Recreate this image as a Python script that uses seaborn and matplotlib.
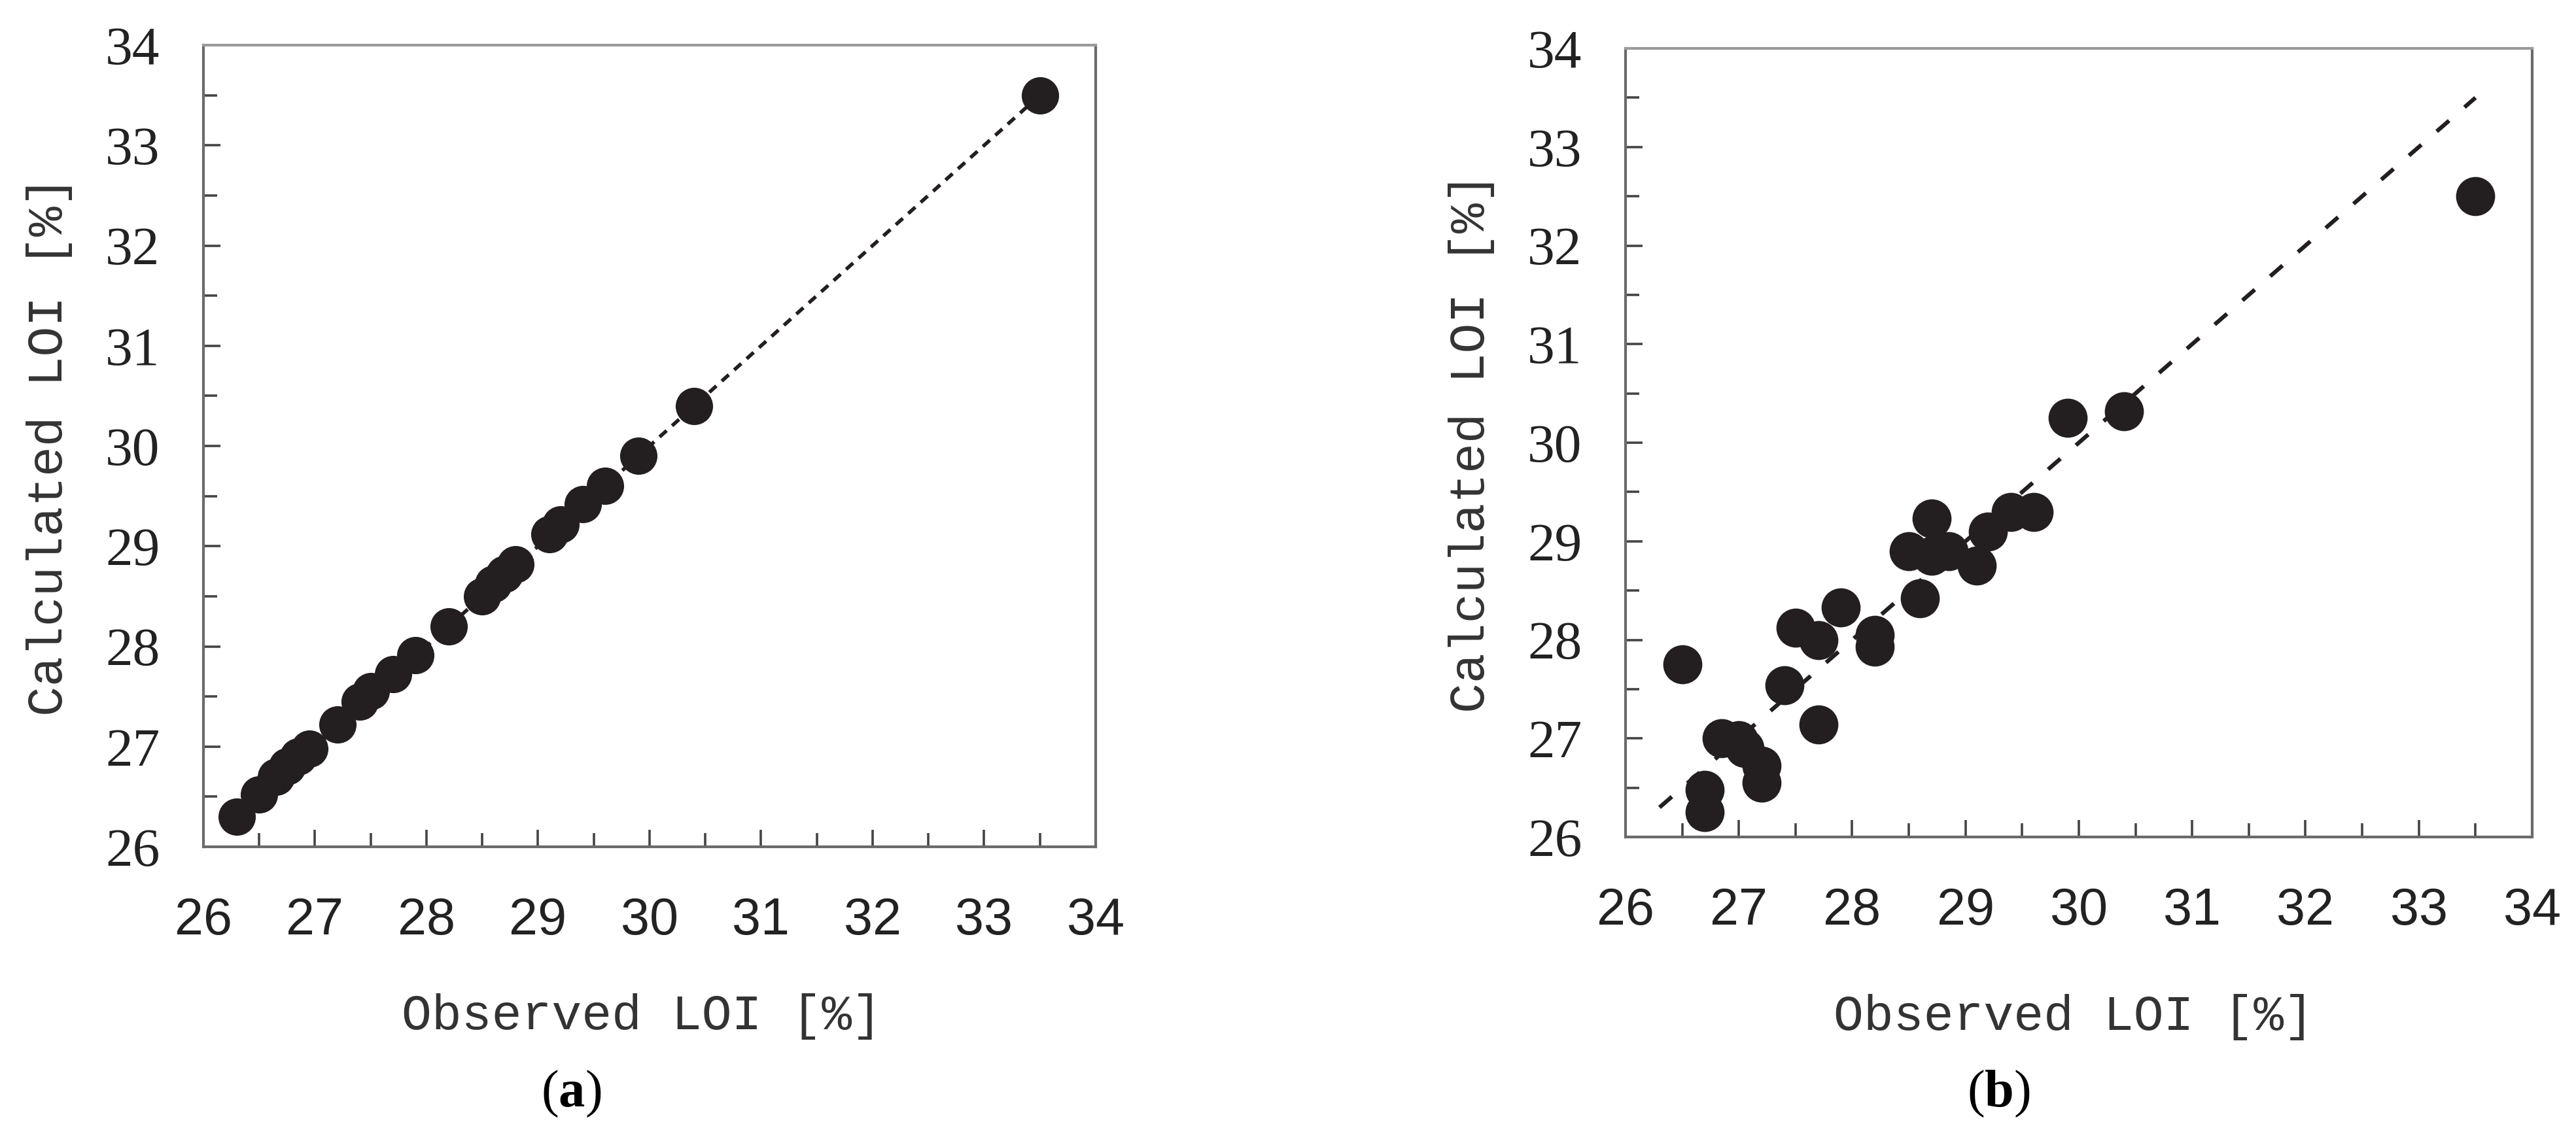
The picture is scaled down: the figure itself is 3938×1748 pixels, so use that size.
import numpy as np
import pandas as pd
import matplotlib
matplotlib.use("Agg")
import matplotlib.pyplot as plt
from matplotlib.ticker import MultipleLocator
import seaborn as sns

sns.set_theme(style="white")
plt.rcParams['mathtext.fontset'] = 'custom'
plt.rcParams['mathtext.rm'] = 'Liberation Serif'
plt.rcParams['mathtext.bf'] = 'Liberation Serif:bold'

# panel (a): observed vs calculated LOI, near-perfect fit
obs_a = [26.30, 26.50, 26.65, 26.75, 26.85, 26.95, 27.20, 27.40, 27.50, 27.70, 27.90,
         28.20, 28.50, 28.60, 28.70, 28.80, 29.10, 29.20, 29.40, 29.60, 29.90, 30.40, 33.50]
calc_a = [26.30, 26.52, 26.70, 26.80, 26.90, 26.98, 27.22, 27.45, 27.55, 27.72, 27.91,
          28.20, 28.50, 28.62, 28.72, 28.82, 29.12, 29.22, 29.42, 29.60, 29.90, 30.40, 33.50]

# panel (b): observed vs calculated LOI, scattered fit
obs_b = [26.50, 26.70, 26.70, 26.85, 27.00, 27.05, 27.20, 27.20, 27.40, 27.50, 27.70,
         27.70, 27.90, 28.20, 28.20, 28.50, 28.60, 28.70, 28.70, 28.85, 29.10, 29.20,
         29.40, 29.60, 29.90, 30.40, 33.50]
calc_b = [27.75, 26.48, 26.25, 27.00, 26.98, 26.90, 26.72, 26.55, 27.54, 28.12, 27.14,
          28.00, 28.33, 28.05, 27.93, 28.90, 28.42, 29.23, 28.85, 28.90, 28.75, 29.10,
          29.30, 29.30, 30.25, 30.32, 32.50]

# y = x reference line
line_x = [26.3, 33.5]
line_y = [26.3, 33.5]

ticks = [26, 27, 28, 29, 30, 31, 32, 33, 34]

fig = plt.figure(figsize=(39.38, 17.48), dpi=100)
ax_a = fig.add_axes([0.07897, 0.25915, 0.34637, 0.70137])
ax_b = fig.add_axes([0.63103, 0.26773, 0.35195, 0.68993])

dot = '#231f20'
spine_col = '#6a6a6a'


def style_axes(ax, xlab_pos, ylab_pos):
    ax.set_xlim(26, 34)
    ax.set_ylim(26, 34)
    ax.xaxis.set_major_locator(MultipleLocator(1))
    ax.yaxis.set_major_locator(MultipleLocator(1))
    ax.xaxis.set_minor_locator(MultipleLocator(0.5))
    ax.yaxis.set_minor_locator(MultipleLocator(0.5))
    ax.set_xticks(ticks)
    ax.set_yticks(ticks)
    ax.set_xticklabels([str(t) for t in ticks], family='Liberation Sans', fontsize=57, color='#222222')
    ax.set_yticklabels([str(t) for t in ticks], family='Liberation Serif', fontsize=60, color='#222222')
    ax.tick_params(axis='both', which='both', direction='in', bottom=True, left=True,
                   top=False, right=False, color='#444444', width=2.6)
    ax.tick_params(axis='x', which='major', length=19, pad=55)
    ax.tick_params(axis='y', which='major', length=19, pad=48)
    ax.tick_params(axis='both', which='minor', length=15)
    for s in ax.spines.values():
        s.set_color(spine_col)
        s.set_linewidth(3.0)
    ax.spines['top'].set_color('#9a9a9a')
    ax.set_xlabel('Observed LOI [%]', family='Liberation Mono', fontsize=55, color='#333333')
    ax.set_ylabel('Calculated LOI [%]', family='Liberation Mono', fontsize=55, color='#333333',
                  va='center')
    ax.xaxis.set_label_coords(*xlab_pos)
    ax.yaxis.set_label_coords(*ylab_pos)
    ax.grid(False)


# (a)
sns.lineplot(x=line_x, y=line_y, ax=ax_a, color=dot, linewidth=4.0,
             linestyle=(0, (2.6, 2.0)), zorder=2)
sns.scatterplot(x=obs_a, y=calc_a, ax=ax_a, s=1690, color=dot, linewidth=0, zorder=3)
style_axes(ax_a, (0.491, -0.183), (-0.173, 0.5))

# (b)
sns.lineplot(x=line_x, y=line_y, ax=ax_b, color=dot, linewidth=4.5,
             linestyle=(0, (4.0, 5.0)), zorder=2)
sns.scatterplot(x=obs_b, y=calc_b, ax=ax_b, s=1850, color=dot, linewidth=0, zorder=3)
style_axes(ax_b, (0.494, -0.199), (-0.17, 0.5))

fig.text(0.2217, 0.0429, r'($\mathbf{a}$)', ha='center', va='center', fontsize=58,
         family='Liberation Serif', color='black')
fig.text(0.7758, 0.0429, r'($\mathbf{b}$)', ha='center', va='center', fontsize=58,
         family='Liberation Serif', color='black')

fig.savefig('out.png', dpi=100, facecolor='white')
